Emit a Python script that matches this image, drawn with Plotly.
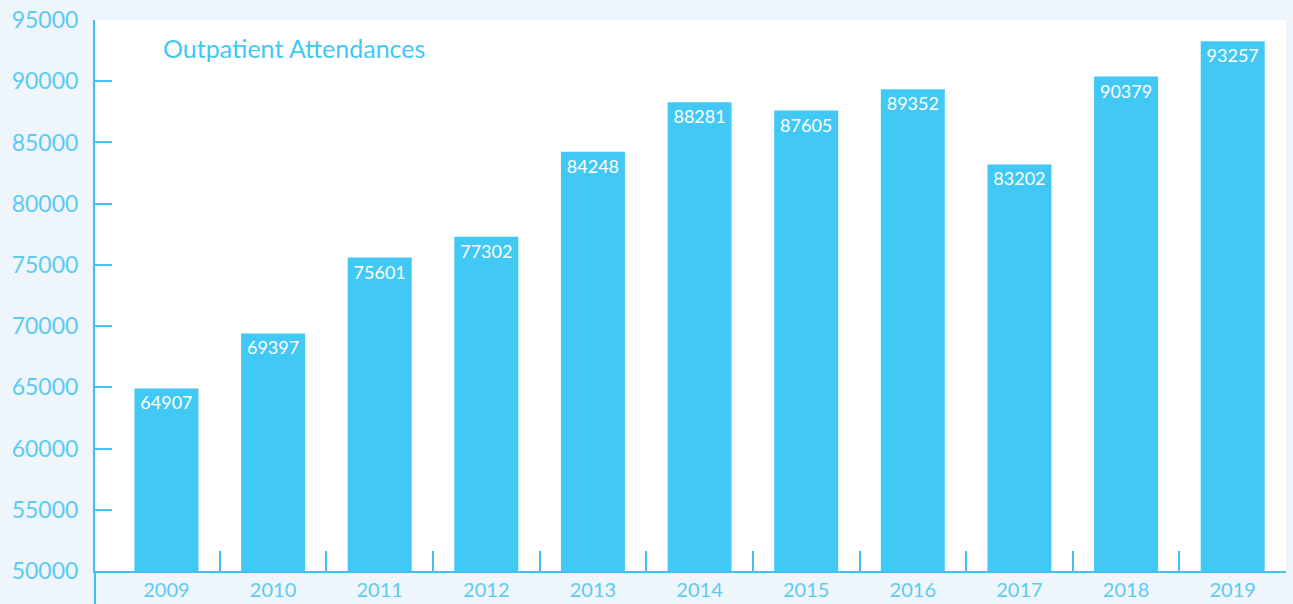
import plotly.graph_objects as go

years = ["2009", "2010", "2011", "2012", "2013", "2014", "2015", "2016", "2017", "2018", "2019"]
attendances = [64907, 69397, 75601, 77302, 84248, 88281, 87605, 89352, 83202, 90379, 93257]
y_ticks = [50000, 55000, 60000, 65000, 70000, 75000, 80000, 85000, 90000, 95000]
title_text = "Outpatient Attendances"

BAR = "#42c8f4"
AXIS = "#42c0f0"
LABEL = "#5ccaf2"
FONT = "Lato, Open Sans, sans-serif"

xpos = list(range(len(years)))
boundaries = [i + 0.5 for i in xpos]

fig = go.Figure()
fig.add_trace(go.Bar(
    x=xpos, y=attendances,
    marker=dict(color=BAR, line=dict(width=0)),
    width=0.6,
    text=[str(v) for v in attendances],
    textposition="inside", insidetextanchor="end", textangle=0,
    textfont=dict(color="white", size=18, family=FONT),
    hoverinfo="x+y",
))
# invisible trace for the boundary-tick axis
fig.add_trace(go.Scatter(x=[boundaries[0]], y=[50000], xaxis="x2", mode="markers",
                         marker=dict(opacity=0), showlegend=False, hoverinfo="skip"))

xr = [-0.67, 10.5]
fig.update_layout(
    width=1293, height=604,
    margin=dict(l=95, r=7, t=20, b=33, autoexpand=False),
    paper_bgcolor="#eef6fc", plot_bgcolor="white",
    showlegend=False,
    uniformtext=dict(minsize=18, mode="show"),
    font=dict(family=FONT, color=LABEL),
    xaxis=dict(range=xr, tickvals=xpos, ticktext=years, ticks="", showgrid=False,
               zeroline=False, showline=True, linecolor=AXIS, linewidth=2,
               automargin=False,
               tickfont=dict(size=20, color=LABEL, family=FONT), fixedrange=True),
    xaxis2=dict(range=xr, overlaying="x", anchor="y", side="bottom", tickvals=boundaries,
                showticklabels=False, ticks="inside", ticklen=20, tickwidth=2,
                automargin=False,
                tickcolor=AXIS, showgrid=False, zeroline=False, showline=False),
    yaxis=dict(range=[50000, 95000], tickvals=y_ticks, tickformat="d", ticks="inside",
               ticklen=17, tickwidth=2, tickcolor=AXIS, showline=True, linecolor=AXIS,
               linewidth=2, showgrid=False, zeroline=False, ticklabelstandoff=10,
               automargin=False,
               tickfont=dict(size=23, color=LABEL, family=FONT)),
    annotations=[dict(text=title_text, xref="paper", yref="paper", x=0.055, y=0.95,
                      xanchor="left", yanchor="middle", showarrow=False,
                      font=dict(size=25, color=BAR, family=FONT))],
    shapes=[dict(type="line", xref="paper", yref="paper", x0=0, x1=0, y0=0, y1=-0.06,
                 line=dict(color=AXIS, width=2))],
)
fig.write_html("out.html")
